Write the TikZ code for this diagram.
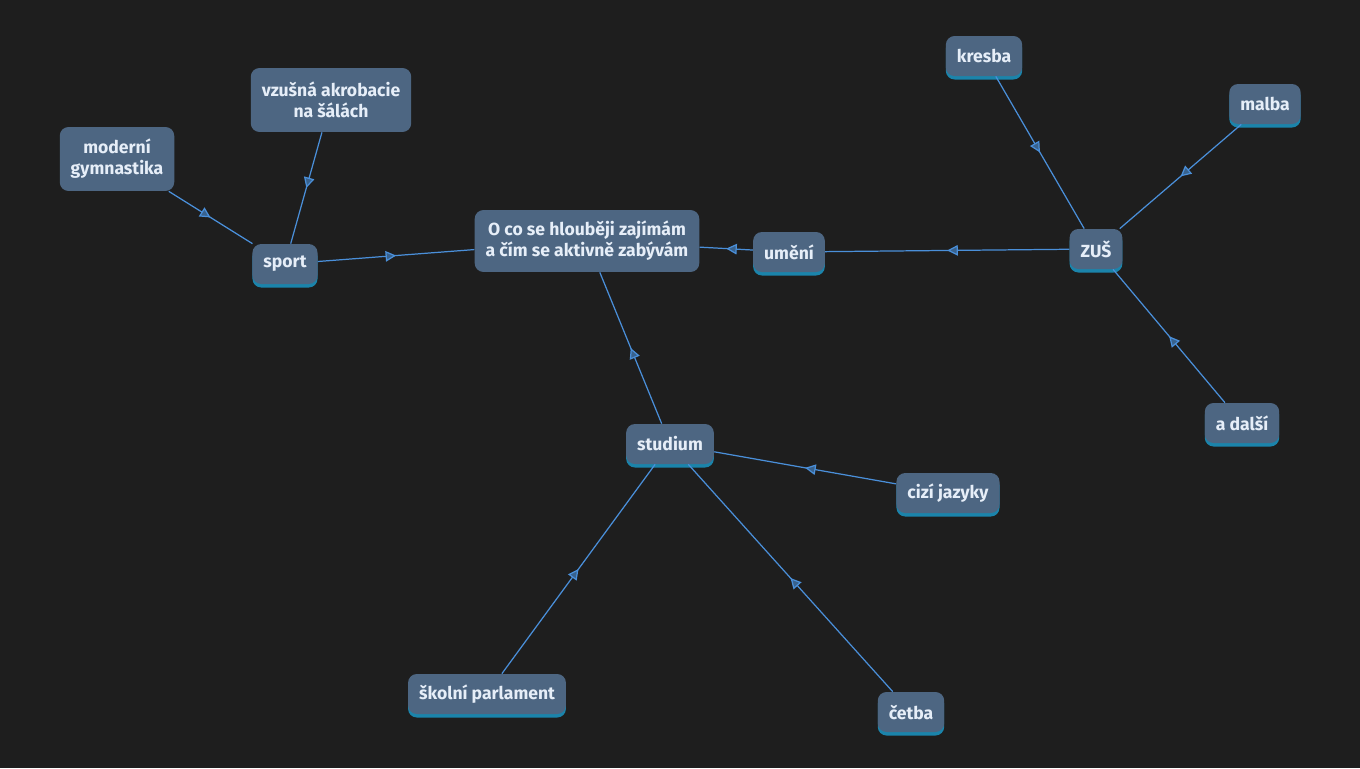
\documentclass[tikz,border=0pt]{standalone}
\usepackage{fontspec}
\setmainfont{Fira Sans}
\usetikzlibrary{arrows.meta, decorations.markings, shadows}
\definecolor{bgc}{HTML}{1E1E1E}
\definecolor{boxc}{HTML}{4D6682}
\definecolor{txtc}{HTML}{E6EEF8}
\definecolor{linec}{HTML}{4A8FD9}
\definecolor{glowc}{HTML}{1AB0E8}
\tikzset{
  topic/.style={rounded corners=5pt, fill=boxc, text=txtc, font=\bfseries\fontsize{10}{12}\selectfont,
    align=center, inner xsep=0.22cm, minimum height=0.8cm},
  glow/.style={topic, drop shadow={shadow xshift=0pt, shadow yshift=-2pt, fill=glowc, opacity=0.7}},
  link/.style={draw=linec, line width=0.7pt, postaction={decorate},
    decoration={markings, mark=at position 0.5 with {\arrow{Triangle[open, fill=linec!60!bgc, length=6pt, width=6pt]}}}}
}
\begin{document}
\begin{tikzpicture}[x=0.02cm, y=-0.02cm]
        \fill[bgc] (0,0) rectangle (1360,768);
        \useasboundingbox (0,0) rectangle (1360,768);
        \node[topic, minimum height=1.24cm] (main) at (587,241) {O co se hlouběji zajímám\\a čím se aktivně zabývám};
        \node[glow] (sport) at (285,264) {sport};
        \node[topic, minimum height=1.28cm] (gym) at (117,159) {moderní\\gymnastika};
        \node[topic, minimum height=1.28cm] (akro) at (331,100) {vzušná akrobacie\\na šálách};
        \node[glow] (umeni) at (789,252) {umění};
        \node[glow] (zus) at (1096,249) {ZUŠ};
        \node[glow] (kresba) at (984,56) {kresba};
        \node[glow] (malba) at (1265,104) {malba};
        \node[glow] (dalsi) at (1242,423) {a další};
        \node[glow] (studium) at (670,444) {studium};
        \node[glow] (jazyky) at (948,493) {cizí jazyky};
        \node[glow] (parlament) at (487,694) {školní parlament};
        \node[glow] (cetba) at (911,712) {četba};

        \draw[link] (sport) -- (main);
        \draw[link] (gym) -- (sport);
        \draw[link] (akro) -- (sport);
        \draw[link] (umeni) -- (main);
        \draw[link] (zus) -- (umeni);
        \draw[link] (kresba) -- (zus);
        \draw[link] (malba) -- (zus);
        \draw[link] (dalsi) -- (zus);
        \draw[link] (studium) -- (main);
        \draw[link] (jazyky) -- (studium);
        \draw[link] (parlament) -- (studium);
        \draw[link] (cetba) -- (studium);
\end{tikzpicture}
\end{document}
